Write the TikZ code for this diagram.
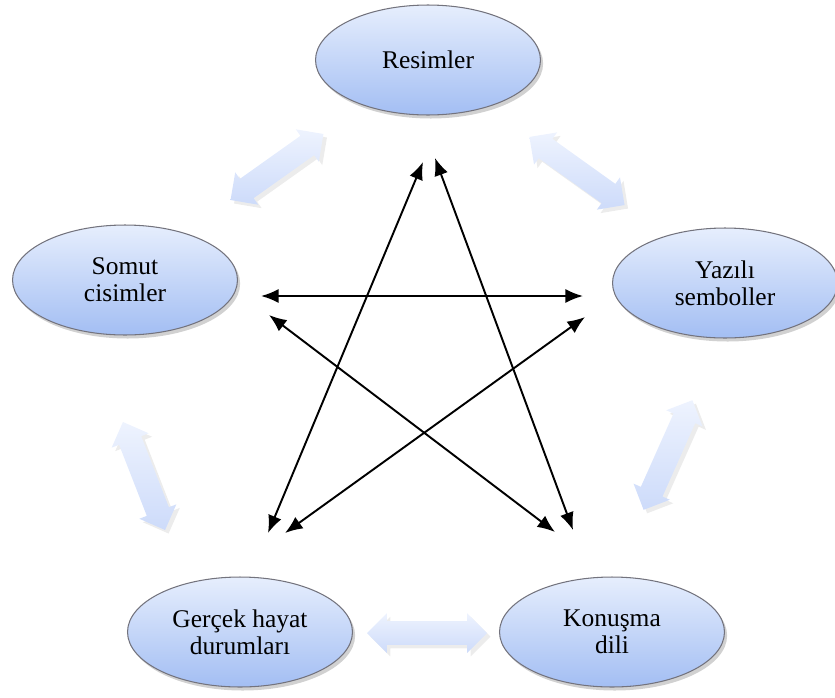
\documentclass[tikz,border=0pt]{standalone}
\usepackage{fontspec}
\setmainfont{Liberation Serif}
\usetikzlibrary{shapes.geometric,shapes.arrows,shadows,arrows.meta}
\definecolor{bubbletop}{RGB}{230,238,253}
\definecolor{bubblebot}{RGB}{163,190,243}
\definecolor{rim}{RGB}{115,115,125}
\definecolor{blocktop}{RGB}{238,243,254}
\definecolor{blockbot}{RGB}{205,219,250}

\begin{document}
\begin{tikzpicture}[x=0.02cm,y=-0.02cm,
  bubble/.style={ellipse,draw=rim,line width=0.6pt,top color=bubbletop,bottom color=bubblebot,
    minimum width=4.5cm,minimum height=2.2cm,inner sep=0pt,align=center,
    font=\fontsize{14.5}{15.5}\selectfont,
    drop shadow={opacity=0.3,fill=black!60,shadow xshift=1.5pt,shadow yshift=-2pt}},
  link/.style={double arrow,top color=blocktop,bottom color=blockbot,inner xsep=0pt,inner ysep=0.23cm,
    minimum height=#1*0.02cm,double arrow head extend=0.16cm,
    drop shadow={opacity=0.15,shadow xshift=2pt,shadow yshift=-2pt}},
  twoway/.style={{Latex[length=10pt,width=8pt]}-{Latex[length=10pt,width=8pt]},line width=1.1pt}]
  \useasboundingbox (0,0) rectangle (835,697);
  % the five ellipses
  \node[bubble] (res) at (428,60) {Resimler};
  \node[bubble] (somut) at (125,280) {Somut\\cisimler};
  \node[bubble] (yazili) at (725,283) {Yazılı\\semboller};
  \node[bubble] (gercek) at (240,632) {Gerçek hayat\\durumları};
  \node[bubble] (konusma) at (612,632) {Konuşma\\dili};
  % block arrows round the ring
  \node[link=114,rotate=35.4] (resSomut) at (277,167) {};
  \node[link=117,rotate=-35.6] (resYazili) at (577,171) {};
  \node[link=116,rotate=-68.7] (somutGercek) at (144,476) {};
  \node[link=120,rotate=66] (yaziliKonusma) at (668,455) {};
  \node[link=120] (gercekKonusma) at (427,633) {};
  % ends of the star
  \coordinate (topL) at (423,162);
  \coordinate (topR) at (435,158);
  \coordinate (midL) at (261,296);
  \coordinate (midR) at (583,296);
  \coordinate (lowL) at (269,315);
  \coordinate (lowR) at (585,317);
  \coordinate (botL) at (268,533);
  \coordinate (botLL) at (285,533);
  \coordinate (botR) at (555,532);
  \coordinate (botRR) at (573,530);
  \draw[twoway] (topL) -- (botL);
  \draw[twoway] (topR) -- (botRR);
  \draw[twoway] (midL) -- (midR);
  \draw[twoway] (lowL) -- (botR);
  \draw[twoway] (lowR) -- (botLL);
\end{tikzpicture}
\end{document}
